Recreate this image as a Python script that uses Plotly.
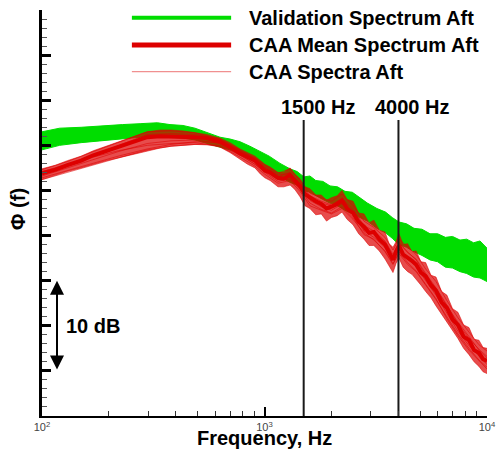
import math

import plotly.graph_objects as go

# ---- data (Phi in dB, arbitrary reference) ----
# validation spectrum: thick noisy band, kept as upper / lower edges
f_val = [100, 120, 150, 182, 230, 276, 330, 376, 430, 487,
         550, 631, 700, 776, 860, 954, 1050, 1174, 1300, 1400,
         1505, 1600, 1700, 1830, 1970, 2130, 2300, 2480, 2687, 2900,
         3200, 3500, 3750, 4022, 4350, 4700, 5100, 5544, 6000, 6500,
         7000, 7562, 8100, 8700, 9300, 10000]
val_upper = [31.5, 31.9, 32.0, 32.1, 32.3, 32.4, 32.5, 32.3, 32.2, 31.9,
             31.4, 30.9, 30.7, 30.4, 29.9, 29.3, 28.8, 28.0, 27.4, 27.1,
             26.5, 26.6, 26.1, 26.0, 25.5, 25.4, 24.9, 24.8, 24.2, 23.6,
             23.0, 22.6, 22.0, 21.5, 21.3, 20.8, 20.7, 20.2, 20.2, 19.8,
             19.9, 19.5, 19.6, 19.2, 19.4, 18.6]
val_lower = [29.5, 30.0, 30.3, 30.5, 30.7, 30.9, 31.0, 30.9, 30.8, 30.6,
             30.2, 29.8, 29.5, 29.2, 28.6, 27.8, 27.2, 26.5, 25.9, 25.6,
             25.0, 24.8, 24.4, 24.0, 23.6, 23.3, 22.8, 22.4, 22.0, 21.6,
             20.8, 20.3, 19.7, 19.0, 18.7, 18.2, 17.8, 17.3, 17.1, 16.5,
             16.4, 16.0, 15.8, 15.4, 15.3, 14.9]

# CAA mean spectrum and the envelope of the individual CAA spectra
f_caa = [100, 115, 130, 150, 170, 195, 220, 255, 297, 340,
         380, 430, 487, 550, 631, 700, 776, 840, 906, 960,
         1003, 1060, 1150, 1220, 1303, 1370, 1444, 1520, 1600, 1700,
         1800, 1900, 2000, 2120, 2230, 2350, 2500, 2650, 2800, 2950,
         3100, 3280, 3480, 3630, 3780, 3900, 4022, 4200, 4400, 4600,
         4800, 5050, 5300, 5600, 5900, 6250, 6600, 7000, 7400, 7850,
         8300, 8750, 9200, 9600, 10000]
caa_mean = [26.9, 27.3, 27.8, 28.3, 28.9, 29.4, 29.9, 30.4, 30.9, 31.0,
            31.0, 31.0, 30.9, 30.8, 30.4, 29.8, 29.1, 28.7, 28.3, 27.7,
            27.2, 27.0, 26.4, 26.3, 26.7, 26.1, 25.5, 24.6, 24.2, 23.8,
            23.5, 23.0, 23.2, 23.5, 23.9, 23.0, 22.5, 21.5, 21.0, 20.3,
            20.4, 19.6, 19.0, 18.0, 17.3, 18.2, 18.9, 17.9, 17.6, 17.2,
            16.8, 15.9, 15.5, 14.5, 13.9, 12.6, 12.0, 10.7, 10.1, 8.8,
            8.4, 7.3, 7.0, 6.3, 6.1]
caa_upper = [27.4, 27.8, 28.3, 28.8, 29.4, 29.9, 30.4, 30.9, 31.5, 31.7,
             31.7, 31.6, 31.4, 31.2, 30.8, 30.3, 29.6, 29.2, 28.8, 28.3,
             27.9, 27.6, 27.0, 27.0, 27.5, 26.8, 26.3, 25.4, 25.2, 24.5,
             24.5, 23.9, 24.2, 24.4, 25.0, 24.0, 23.8, 22.5, 22.4, 21.4,
             21.7, 20.6, 20.4, 19.1, 18.7, 19.3, 20.2, 19.0, 19.1, 18.2,
             18.3, 17.1, 17.0, 15.6, 15.4, 13.8, 13.4, 11.9, 11.5, 10.1,
             9.8, 8.5, 8.4, 7.6, 7.5]
caa_lower = [26.2, 26.7, 27.1, 27.5, 27.9, 28.3, 28.6, 29.0, 29.4, 29.7,
             29.9, 30.0, 30.1, 30.1, 29.8, 29.2, 28.5, 27.9, 27.5, 26.8,
             26.4, 26.1, 25.4, 25.4, 25.6, 25.1, 24.3, 23.3, 23.0, 22.3,
             22.4, 21.6, 22.0, 22.2, 22.6, 21.8, 21.2, 20.2, 19.6, 18.9,
             18.9, 18.3, 17.4, 16.7, 15.9, 16.9, 17.5, 16.5, 16.0, 15.7,
             15.2, 14.5, 13.8, 13.1, 12.2, 11.3, 10.4, 9.4, 8.6, 7.5,
             6.8, 6.0, 5.5, 4.9, 4.7]

# a few individual CAA runs (coarser grid), visible mostly at low frequency
f_run = [100, 130, 170, 220, 297, 380, 487, 631, 776, 906, 1003, 1150, 1303,
         1444, 1600, 1800, 2000, 2230, 2500, 2800, 3100, 3480, 3780, 4022, 4400,
         4800, 5300, 5900, 6600, 7400, 8300, 9200, 10000]
caa_runs = [
    [27.3, 28.2, 29.3, 30.3, 31.5, 31.6, 31.4, 30.6, 29.4, 28.6, 27.8, 26.9, 27.4,
     26.1, 24.7, 24.2, 23.8, 24.6, 23.3, 21.6, 20.9, 19.8, 18.4, 19.6, 18.7, 17.9,
     16.3, 14.9, 12.8, 10.9, 9.3, 7.9, 7.2],
    [26.6, 27.5, 28.5, 29.3, 30.2, 30.5, 30.6, 30.2, 29.0, 27.9, 27.0, 26.0, 26.3,
     25.1, 23.6, 22.9, 22.5, 23.2, 22.0, 20.1, 19.6, 18.2, 16.8, 18.2, 17.0, 16.1,
     14.6, 13.0, 10.8, 8.9, 7.3, 6.1, 5.2],
    [26.4, 27.2, 28.0, 28.8, 29.6, 30.1, 30.4, 30.3, 29.3, 28.4, 27.6, 26.7, 26.9,
     25.8, 24.4, 23.8, 23.4, 24.1, 22.9, 21.1, 20.5, 19.4, 17.9, 19.3, 18.1, 17.4,
     15.8, 14.2, 12.3, 10.2, 8.6, 7.4, 6.6],
    [27.1, 27.9, 28.7, 29.4, 30.0, 30.2, 30.3, 29.9, 28.7, 27.7, 26.8, 25.8, 26.1,
     24.9, 23.3, 22.8, 22.4, 23.0, 21.8, 20.3, 19.5, 18.3, 16.9, 18.0, 16.8, 16.0,
     14.5, 12.9, 11.0, 9.1, 7.5, 6.2, 5.4],
    [26.8, 27.7, 28.9, 30.0, 31.2, 31.3, 31.2, 30.7, 29.5, 28.5, 27.5, 26.5, 27.0,
     25.6, 24.2, 23.6, 23.3, 24.0, 22.5, 20.6, 20.3, 19.1, 17.6, 19.1, 18.2, 17.3,
     15.6, 14.1, 12.2, 10.4, 8.8, 7.3, 6.4],
    [26.2, 27.0, 27.9, 28.6, 29.5, 29.9, 30.1, 30.0, 28.9, 27.9, 27.1, 26.2, 26.2,
     25.2, 23.9, 23.2, 22.8, 23.5, 22.3, 20.5, 19.8, 18.7, 17.3, 18.5, 17.4, 16.6,
     15.0, 13.4, 11.4, 9.4, 7.8, 6.6, 5.7],
]

assert len(val_upper) == len(val_lower) == len(f_val)
assert len(caa_mean) == len(caa_upper) == len(caa_lower) == len(f_caa)

marker_freqs = [1500, 4000]
marker_labels = ["1500 Hz", "4000 Hz"]
marker_top = 32.8

x_tickvals = [100, 1000, 10000]
x_ticktext = ["10<sup>2</sup>", "10<sup>3</sup>", "10<sup>4</sup>"]
x_minor = [200, 300, 400, 500, 600, 700, 800, 900,
           2000, 3000, 4000, 5000, 6000, 7000, 8000, 9000]

GREEN = "#00DD00"
RED = "#DD0000"
THIN_RED = "rgba(221,0,0,0.55)"
FONT = "Arial, Liberation Sans, sans-serif"
PX_PER_DECADE = 222.5  # plot width 445 px over 2 decades

fig = go.Figure()

# green band
fig.add_trace(go.Scatter(x=f_val, y=val_lower, mode="lines",
                         line=dict(color=GREEN, width=1), hoverinfo="skip"))
fig.add_trace(go.Scatter(x=f_val, y=val_upper, mode="lines", fill="tonexty",
                         fillcolor=GREEN, line=dict(color=GREEN, width=1),
                         name="Validation Spectrum Aft"))

# CAA spectra: envelope band + thin runs
fig.add_trace(go.Scatter(x=f_caa, y=caa_lower, mode="lines",
                         line=dict(color=THIN_RED, width=1), hoverinfo="skip"))
fig.add_trace(go.Scatter(x=f_caa, y=caa_upper, mode="lines", fill="tonexty",
                         fillcolor="rgba(221,0,0,0.7)",
                         line=dict(color=THIN_RED, width=1),
                         name="CAA Spectra Aft"))
for run in caa_runs:
    fig.add_trace(go.Scatter(x=f_run, y=run, mode="lines",
                             line=dict(color=THIN_RED, width=1),
                             hoverinfo="skip"))

fig.add_trace(go.Scatter(x=f_caa, y=caa_mean, mode="lines",
                         line=dict(color=RED, width=4),
                         name="CAA Mean Spectrum Aft"))

# vertical marker lines
for fm in marker_freqs:
    fig.add_trace(go.Scatter(x=[fm, fm], y=[0, marker_top], mode="lines",
                             line=dict(color="#1a1a1a", width=2),
                             hoverinfo="skip"))

# hand-made legend (long line samples like the original)
legend_items = [
    ("Validation Spectrum Aft", GREEN, 4),
    ("CAA Mean Spectrum Aft", RED, 5),
    ("CAA Spectra Aft", THIN_RED, 1),
]
legend_y = [0.981, 0.914, 0.848]
for (label, col, w), yy in zip(legend_items, legend_y):
    fig.add_shape(type="line", xref="paper", yref="paper",
                  x0=0.202, x1=0.425, y0=yy, y1=yy,
                  line=dict(color=col, width=w))
    fig.add_annotation(text="<b>%s</b>" % label, xref="paper", yref="paper",
                       x=0.46, y=yy, xanchor="left", yanchor="middle",
                       showarrow=False,
                       font=dict(family=FONT, size=20, color="black"))

for fm, lab in zip(marker_freqs, marker_labels):
    # text starts ~25 px left of the line
    fig.add_annotation(text="<b>%s</b>" % lab,
                       x=math.log10(fm) - 25 / PX_PER_DECADE,
                       y=34.3, xanchor="left", yanchor="middle",
                       showarrow=False,
                       font=dict(family=FONT, size=20, color="black"))

# 10 dB scale arrow
fig.add_annotation(x=2.0674, y=15, ax=2.0674, ay=5, xref="x", yref="y",
                   axref="x", ayref="y", text="", showarrow=True,
                   arrowhead=2, arrowside="end+start", arrowsize=1.4,
                   arrowwidth=2, arrowcolor="black")
fig.add_annotation(text="<b>10 dB</b>", x=2.1, y=10, xanchor="left",
                   yanchor="middle", showarrow=False,
                   font=dict(family=FONT, size=20, color="black"))

# axis titles as annotations so they sit where the original has them
fig.add_annotation(text="<b>Φ (f)</b>", xref="paper", yref="paper",
                   x=-0.054, y=0.51, xanchor="center", yanchor="middle",
                   textangle=-90, showarrow=False,
                   font=dict(family=FONT, size=20, color="black"))
fig.add_annotation(text="<b>Frequency, Hz</b>", xref="paper", yref="paper",
                   x=0.5, y=-0.054, xanchor="center", yanchor="middle",
                   showarrow=False,
                   font=dict(family=FONT, size=20, color="black"))

fig.update_layout(
    width=500, height=451,
    margin=dict(l=42, r=13, t=10, b=35),
    paper_bgcolor="white", plot_bgcolor="white",
    font=dict(family=FONT),
    showlegend=False,
)
fig.update_xaxes(
    type="log", range=[2, 4], showgrid=False, zeroline=False,
    automargin=False,
    showline=True, linecolor="black", linewidth=2,
    ticks="inside", ticklen=9, tickwidth=2, tickcolor="black",
    tickvals=x_tickvals, ticktext=x_ticktext,
    tickfont=dict(family=FONT, size=11, color="#444"),
    minor=dict(tickvals=x_minor, ticks="inside", ticklen=5, tickwidth=1,
               tickcolor="#333"),
)
fig.update_yaxes(
    range=[0, 45], showgrid=False, zeroline=False,
    automargin=False,
    showline=True, linecolor="black", linewidth=2.5,
    ticks="inside", ticklen=9, tickwidth=2.5, tickcolor="black",
    dtick=5, showticklabels=False,
    minor=dict(dtick=1, ticks="inside", ticklen=5, tickwidth=1,
               tickcolor="#555"),
)

# drop the browser's default 8 px body margin so the 500x451 figure fills the page
fig.write_html("out.html", config={"displayModeBar": False},
               post_script="document.body.style.margin='0px';")
